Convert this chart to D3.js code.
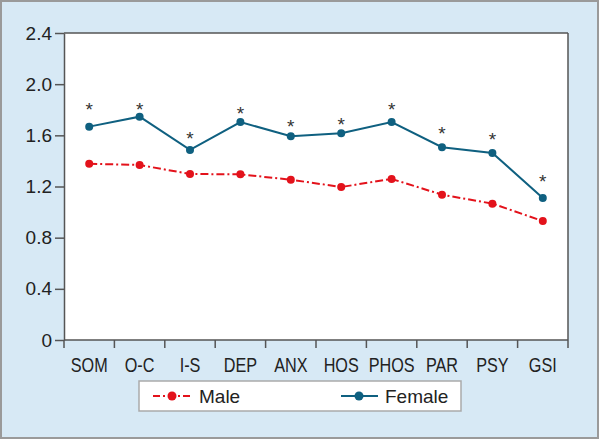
<!DOCTYPE html>
<html><head><meta charset="utf-8">
<script src="https://cdn.jsdelivr.net/npm/d3@7"></script>
<style>
html,body{margin:0;padding:0;background:#fff;}
svg{display:block;font-family:"Liberation Sans",Arial,sans-serif;}
</style></head>
<body><svg id="c" width="600" height="441"></svg>
<script>
const categories = ["SOM","O-C","I-S","DEP","ANX","HOS","PHOS","PAR","PSY","GSI"];
const maleValues = [1.378,1.368,1.298,1.295,1.253,1.196,1.259,1.136,1.066,0.930];
const femaleValues = [1.668,1.746,1.486,1.704,1.593,1.616,1.704,1.507,1.462,1.110];
const starValues = [1.83,1.83,1.60,1.80,1.70,1.71,1.83,1.64,1.595,1.27];
const yTicks = [0,0.4,0.8,1.2,1.6,2.0,2.4];
const yTickLabels = ["0","0.4","0.8","1.2","1.6","2.0","2.4"];
const seriesNames = ["Male","Female"];

const svg = d3.select("#c");
const maleColor = "#e3121b", femaleColor = "#0f6080";
const L = 64, R = 568, T = 33, B = 340;

svg.append("rect").attr("x",1).attr("y",1).attr("width",597).attr("height",437)
  .attr("fill","#d7e9f5").attr("stroke","#9a9a9a").attr("stroke-width",2);
svg.append("rect").attr("x",L).attr("y",T).attr("width",R-L).attr("height",B-T)
  .attr("fill","#fff");

const x = d3.scaleBand().domain(categories).range([L,R]).padding(0);
const y = d3.scaleLinear().domain([0,2.4]).range([B,T]);

// y axis
const yAxis = svg.append("g").attr("transform",`translate(${L},0)`)
  .call(d3.axisLeft(y).tickValues(yTicks).tickFormat((d,i)=>yTickLabels[i]).tickSize(9).tickSizeOuter(0).tickPadding(3));
yAxis.selectAll("text").attr("font-size",19).attr("fill","#222").attr("font-family","Liberation Sans, Arial, sans-serif");
yAxis.selectAll("line,path").attr("stroke","#555").attr("stroke-width",1.5);

// x axis with ticks at band boundaries
const xAxisG = svg.append("g").attr("transform",`translate(0,${B})`);
xAxisG.append("line").attr("x1",L).attr("x2",R).attr("stroke","#555").attr("stroke-width",1.5);
const bounds = categories.map(c=>x(c)).concat([x(categories[categories.length-1])+x.bandwidth()]);
xAxisG.selectAll("line.tk").data(bounds).enter().append("line").attr("class","tk")
  .attr("x1",d=>d).attr("x2",d=>d).attr("y1",0).attr("y2",8).attr("stroke","#555").attr("stroke-width",1.5);
xAxisG.selectAll("text").data(categories).enter().append("text")
  .attr("transform",d=>`translate(${x(d)+x.bandwidth()/2},32) scale(0.81,1)`)
  .attr("text-anchor","middle").attr("font-size",20).attr("fill","#222").text(d=>d);

// top and right frame
svg.append("line").attr("x1",L).attr("x2",R).attr("y1",T).attr("y2",T).attr("stroke","#555").attr("stroke-width",1.5);
svg.append("line").attr("x1",R).attr("x2",R).attr("y1",T).attr("y2",B).attr("stroke","#555").attr("stroke-width",1.5);

const cx = d => x(d)+x.bandwidth()/2;
const line = d3.line().x((d,i)=>cx(categories[i])).y(d=>y(d));

svg.append("path").datum(maleValues).attr("d",line).attr("fill","none")
  .attr("stroke",maleColor).attr("stroke-width",2).attr("stroke-dasharray","8,3,2,3");
svg.selectAll("circle.m").data(maleValues).enter().append("circle").attr("class","m")
  .attr("cx",(d,i)=>cx(categories[i])).attr("cy",d=>y(d)).attr("r",4).attr("fill",maleColor);

svg.append("path").datum(femaleValues).attr("d",line).attr("fill","none")
  .attr("stroke",femaleColor).attr("stroke-width",2);
svg.selectAll("circle.f").data(femaleValues).enter().append("circle").attr("class","f")
  .attr("cx",(d,i)=>cx(categories[i])).attr("cy",d=>y(d)).attr("r",4).attr("fill",femaleColor);

svg.selectAll("text.star").data(starValues).enter().append("text").attr("class","star")
  .attr("x",(d,i)=>cx(categories[i])).attr("y",d=>y(d)+10)
  .attr("text-anchor","middle").attr("font-size",19).attr("fill","#333").text("*");

// legend
const lg = svg.append("g");
lg.append("rect").attr("x",139).attr("y",381).attr("width",322).attr("height",30)
  .attr("fill","#fff").attr("stroke","#aaa").attr("stroke-width",1.5);
lg.append("line").attr("x1",153).attr("x2",191).attr("y1",396).attr("y2",396)
  .attr("stroke",maleColor).attr("stroke-width",2).attr("stroke-dasharray","7,3,2,3");
lg.append("circle").attr("cx",172).attr("cy",396).attr("r",4.5).attr("fill",maleColor);
lg.append("text").attr("x",199).attr("y",403).attr("font-size",19).attr("fill","#222").text(seriesNames[0]);
lg.append("line").attr("x1",341).attr("x2",378).attr("y1",396).attr("y2",396)
  .attr("stroke",femaleColor).attr("stroke-width",2);
lg.append("circle").attr("cx",359).attr("cy",396).attr("r",4.5).attr("fill",femaleColor);
lg.append("text").attr("x",385).attr("y",403).attr("font-size",19).attr("fill","#222").text(seriesNames[1]);
</script></body></html>
